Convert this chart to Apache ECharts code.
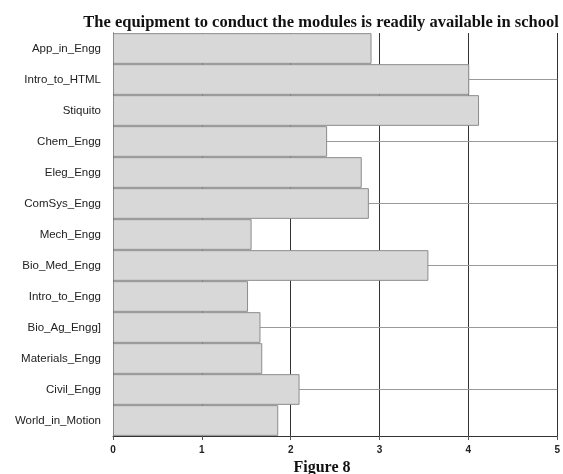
<!DOCTYPE html>
<html>
<head>
<meta charset="utf-8">
<script src="https://cdn.jsdelivr.net/npm/echarts@6/dist/echarts.min.js"></script>
<style>
html,body{margin:0;padding:0;background:#fff;}
#chart{width:563px;height:474px;}
</style>
</head>
<body>
<div id="chart"></div>
<script>
const categories = ["App_in_Engg","Intro_to_HTML","Stiquito","Chem_Engg","Eleg_Engg","ComSys_Engg","Mech_Engg","Bio_Med_Engg","Intro_to_Engg","Bio_Ag_Engg]","Materials_Engg","Civil_Engg","World_in_Motion"];
const values = [2.91, 4.01, 4.12, 2.41, 2.80, 2.88, 1.56, 3.55, 1.52, 1.66, 1.68, 2.10, 1.86];
const guideCategories = ["Intro_to_HTML","Chem_Engg","ComSys_Engg","Bio_Med_Engg","Bio_Ag_Engg]","Civil_Engg"];
const titleText = "The equipment to conduct the modules is readily available in school";
const captionText = "Figure 8";

const chart = echarts.init(document.getElementById('chart'), null, {renderer:'canvas'});
chart.setOption({
  animation: false,
  backgroundColor: '#ffffff',
  title: [
    {text: titleText, left: 316, top: 9, textAlign: 'center',
     textStyle: {fontFamily: 'Liberation Serif', fontWeight: 'bold', fontSize: 16.5, color: '#111'}},
    {text: captionText, left: 317, top: 455, textAlign: 'center',
     textStyle: {fontFamily: 'Liberation Serif', fontWeight: 'bold', fontSize: 16, color: '#111'}}
  ],
  grid: {left: 113, right: 4, top: 33, bottom: 38, containLabel: false},
  xAxis: {
    type: 'value', min: 0, max: 5, interval: 1,
    axisLine: {show: true, lineStyle: {color: '#333', width: 1}},
    axisTick: {show: true, length: 4, lineStyle: {color: '#555'}},
    axisLabel: {fontFamily: 'Liberation Sans', fontSize: 10, fontWeight: 'bold', color: '#222', margin: 9},
    splitLine: {show: true, lineStyle: {color: '#333', width: 1}}
  },
  yAxis: {
    type: 'category', data: categories, inverse: true,
    axisLine: {show: true, lineStyle: {color: '#444', width: 1}},
    axisTick: {show: false},
    axisLabel: {fontFamily: 'Liberation Sans', fontSize: 11.5, color: '#222', margin: 12},
    splitLine: {show: false}
  },
  series: [
    {
      type: 'line', data: [], z: 1, silent: true,
      markLine: {
        z: 1,
        symbol: 'none', silent: true, label: {show: false},
        lineStyle: {color: '#9a9a9a', width: 1, type: 'solid'},
        data: guideCategories.map(c => ({yAxis: c}))
      }
    },
    {
      type: 'bar', data: values, z: 3,
      barCategoryGap: '1%',
      itemStyle: {color: '#d8d8d8', borderColor: '#8c8c8c', borderWidth: 1}
    }
  ]
});
</script>
</body>
</html>
